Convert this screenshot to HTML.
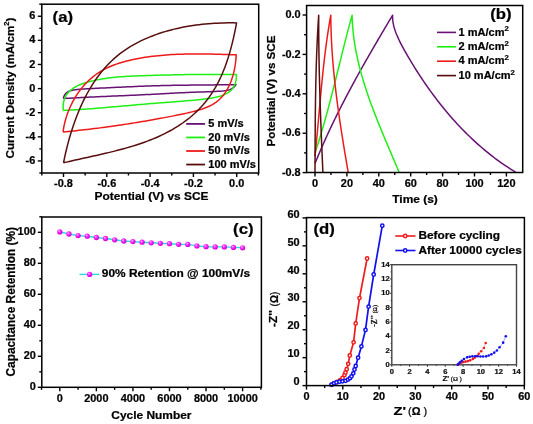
<!DOCTYPE html><html><head><meta charset="utf-8"><style>html,body{margin:0;padding:0;background:#fff;overflow:hidden}svg{display:block;will-change:transform;filter:blur(0.3px)}text{stroke:#000;stroke-width:0.22px;paint-order:stroke}</style></head><body>
<svg width="533" height="424" viewBox="0 0 533 424">
<rect width="533" height="424" fill="#fff"/>
<path d="M63.29,98.50L63.92,96.36L64.86,94.60L66.09,93.17L67.58,92.03L69.28,91.15L71.17,90.48L73.21,89.99L75.36,89.64L77.59,89.39L79.86,89.20L82.15,89.04L84.44,88.89L86.74,88.76L89.04,88.63L91.33,88.52L93.63,88.41L95.92,88.30L98.21,88.20L100.50,88.10L102.79,88.01L105.07,87.90L107.34,87.80L109.61,87.69L111.88,87.59L114.14,87.48L116.40,87.37L118.66,87.26L120.91,87.16L123.16,87.05L125.41,86.94L127.66,86.84L129.90,86.73L132.15,86.63L134.39,86.53L136.64,86.43L138.88,86.34L141.13,86.25L143.37,86.16L145.62,86.07L147.87,86.00L150.12,85.92L152.37,85.85L154.62,85.78L156.88,85.72L159.13,85.66L161.39,85.60L163.65,85.55L165.91,85.50L168.17,85.45L170.43,85.41L172.69,85.37L174.96,85.33L177.22,85.30L179.48,85.26L181.75,85.23L184.01,85.20L186.28,85.17L188.54,85.14L190.81,85.12L193.07,85.09L195.34,85.07L197.60,85.04L199.87,85.02L202.13,85.00L204.40,84.98L206.66,84.96L208.92,84.93L211.19,84.91L213.45,84.89L215.71,84.87L217.97,84.84L220.23,84.82L222.48,84.79L224.74,84.76L226.99,84.73L229.25,84.70L231.50,84.67L233.75,84.64L236.00,84.60L234.91,86.18L233.58,87.48L232.04,88.52L230.33,89.35L228.46,89.98L226.47,90.46L224.37,90.80L222.19,91.04L219.97,91.21L217.71,91.35L215.45,91.46L213.19,91.56L210.93,91.66L208.66,91.74L206.39,91.82L204.12,91.89L201.86,91.96L199.59,92.03L197.33,92.11L195.07,92.19L192.82,92.27L190.57,92.36L188.32,92.45L186.08,92.55L183.84,92.65L181.61,92.75L179.37,92.86L177.14,92.97L174.91,93.09L172.69,93.20L170.46,93.32L168.24,93.44L166.01,93.56L163.79,93.68L161.57,93.80L159.34,93.92L157.12,94.04L154.90,94.15L152.67,94.27L150.45,94.38L148.22,94.50L145.99,94.61L143.76,94.72L141.53,94.82L139.30,94.93L137.07,95.03L134.83,95.14L132.60,95.24L130.36,95.34L128.13,95.44L125.89,95.54L123.65,95.64L121.41,95.73L119.18,95.83L116.94,95.93L114.70,96.03L112.46,96.12L110.22,96.22L107.98,96.32L105.74,96.42L103.50,96.51L101.26,96.61L99.03,96.71L96.79,96.81L94.55,96.92L92.31,97.02L90.07,97.12L87.84,97.23L85.60,97.33L83.37,97.44L81.13,97.55L78.90,97.66L76.67,97.77L74.44,97.89L72.21,98.01L69.98,98.13L67.75,98.25L65.53,98.37L63.30,98.50" fill="none" stroke="#671274" stroke-width="1.50" stroke-linejoin="round" stroke-linecap="butt"/>
<path d="M63.29,110.50L63.10,107.64L63.18,104.96L63.50,102.47L64.05,100.15L64.83,98.00L65.81,96.01L66.99,94.18L68.34,92.49L69.86,90.93L71.53,89.51L73.34,88.20L75.27,87.01L77.32,85.92L79.45,84.94L81.67,84.04L83.96,83.22L86.30,82.48L88.68,81.80L91.09,81.19L93.51,80.62L95.93,80.10L98.36,79.62L100.78,79.18L103.20,78.77L105.63,78.41L108.05,78.07L110.48,77.77L112.90,77.50L115.33,77.25L117.75,77.03L120.17,76.83L122.60,76.65L125.02,76.49L127.45,76.35L129.87,76.22L132.29,76.10L134.72,76.00L137.14,75.90L139.56,75.81L141.98,75.72L144.40,75.64L146.82,75.56L149.24,75.48L151.66,75.40L154.08,75.33L156.50,75.26L158.92,75.19L161.33,75.12L163.75,75.06L166.17,75.00L168.58,74.94L171.00,74.89L173.42,74.83L175.83,74.79L178.25,74.74L180.67,74.70L183.09,74.66L185.50,74.62L187.92,74.58L190.34,74.55L192.76,74.52L195.17,74.50L197.59,74.47L200.01,74.45L202.43,74.43L204.85,74.42L207.27,74.41L209.70,74.40L212.12,74.39L214.54,74.39L216.97,74.39L219.39,74.39L221.82,74.40L224.25,74.41L226.68,74.42L229.10,74.44L231.54,74.46L233.97,74.48L236.40,74.50L236.37,77.40L236.08,80.05L235.55,82.46L234.79,84.64L233.82,86.61L232.65,88.38L231.30,89.96L229.77,91.36L228.09,92.61L226.27,93.70L224.32,94.65L222.25,95.48L220.09,96.20L217.84,96.82L215.53,97.35L213.15,97.80L210.74,98.20L208.30,98.55L205.84,98.86L203.39,99.15L200.94,99.42L198.51,99.68L196.09,99.93L193.68,100.17L191.27,100.40L188.88,100.62L186.49,100.83L184.10,101.04L181.73,101.23L179.36,101.43L176.99,101.61L174.63,101.80L172.27,101.98L169.91,102.16L167.56,102.33L165.21,102.51L162.85,102.69L160.50,102.87L158.15,103.05L155.79,103.23L153.43,103.42L151.07,103.61L148.71,103.80L146.35,104.00L143.99,104.20L141.62,104.40L139.25,104.60L136.89,104.80L134.52,105.01L132.15,105.21L129.78,105.42L127.40,105.63L125.03,105.84L122.66,106.05L120.28,106.25L117.91,106.46L115.53,106.67L113.15,106.87L110.78,107.08L108.40,107.28L106.02,107.48L103.65,107.68L101.27,107.88L98.89,108.07L96.52,108.26L94.14,108.45L91.76,108.64L89.39,108.82L87.01,108.99L84.64,109.17L82.26,109.34L79.89,109.50L77.52,109.66L75.14,109.81L72.77,109.96L70.40,110.11L68.03,110.24L65.67,110.37L63.30,110.50" fill="none" stroke="#1ef014" stroke-width="1.50" stroke-linejoin="round" stroke-linecap="butt"/>
<path d="M63.00,131.90L63.39,129.31L63.87,126.72L64.42,124.12L65.06,121.53L65.77,118.95L66.56,116.38L67.44,113.82L68.38,111.29L69.41,108.78L70.50,106.29L71.68,103.84L72.92,101.42L74.24,99.04L75.63,96.70L77.09,94.42L78.62,92.18L80.21,90.00L81.88,87.88L83.61,85.82L85.41,83.84L87.27,81.92L89.19,80.08L91.18,78.31L93.22,76.62L95.32,75.00L97.48,73.47L99.69,72.01L101.94,70.63L104.25,69.34L106.60,68.13L108.99,67.01L111.42,65.96L113.89,64.99L116.39,64.09L118.92,63.25L121.48,62.47L124.05,61.75L126.64,61.07L129.25,60.43L131.86,59.84L134.48,59.28L137.11,58.75L139.75,58.26L142.39,57.79L145.04,57.36L147.69,56.97L150.35,56.60L153.01,56.25L155.68,55.94L158.35,55.65L161.03,55.39L163.71,55.16L166.39,54.95L169.08,54.76L171.77,54.59L174.46,54.44L177.15,54.32L179.85,54.21L182.54,54.13L185.24,54.06L187.94,54.00L190.64,53.96L193.33,53.94L196.03,53.93L198.73,53.93L201.42,53.95L204.12,53.97L206.81,54.01L209.50,54.05L212.18,54.11L214.87,54.17L217.55,54.23L220.23,54.31L222.90,54.38L225.57,54.46L228.23,54.54L230.89,54.63L233.55,54.71L236.20,54.80L236.06,57.42L235.84,60.07L235.54,62.74L235.17,65.42L234.70,68.09L234.16,70.76L233.52,73.42L232.80,76.04L231.98,78.63L231.06,81.17L230.06,83.66L228.95,86.08L227.74,88.43L226.42,90.70L225.01,92.87L223.48,94.95L221.85,96.91L220.10,98.76L218.24,100.47L216.26,102.05L214.16,103.49L211.96,104.80L209.67,105.98L207.30,107.05L204.85,108.03L202.35,108.92L199.80,109.73L197.21,110.49L194.60,111.19L191.99,111.86L189.36,112.50L186.74,113.11L184.11,113.70L181.49,114.27L178.86,114.82L176.23,115.35L173.60,115.87L170.98,116.38L168.35,116.88L165.72,117.38L163.10,117.87L160.47,118.35L157.85,118.83L155.22,119.30L152.60,119.77L149.98,120.23L147.36,120.69L144.73,121.14L142.11,121.58L139.49,122.02L136.87,122.46L134.25,122.88L131.62,123.31L129.00,123.72L126.38,124.13L123.75,124.53L121.13,124.93L118.50,125.32L115.88,125.71L113.25,126.08L110.62,126.45L107.99,126.82L105.36,127.17L102.73,127.53L100.10,127.87L97.46,128.20L94.82,128.53L92.18,128.86L89.54,129.17L86.90,129.48L84.25,129.78L81.61,130.07L78.96,130.35L76.30,130.63L73.65,130.90L70.99,131.16L68.33,131.41L65.67,131.66L63.00,131.90" fill="none" stroke="#ee1a1a" stroke-width="1.50" stroke-linejoin="round" stroke-linecap="butt"/>
<path d="M63.51,162.80L64.12,159.80L64.76,156.79L65.43,153.77L66.14,150.74L66.88,147.70L67.65,144.66L68.46,141.61L69.30,138.57L70.18,135.52L71.10,132.48L72.05,129.44L73.04,126.42L74.08,123.40L75.15,120.40L76.27,117.41L77.42,114.43L78.62,111.48L79.87,108.54L81.16,105.63L82.49,102.75L83.87,99.89L85.30,97.06L86.77,94.27L88.30,91.50L89.87,88.78L91.50,86.09L93.17,83.44L94.90,80.84L96.68,78.28L98.51,75.76L100.40,73.30L102.35,70.89L104.35,68.53L106.40,66.22L108.52,63.98L110.69,61.79L112.92,59.67L115.22,57.61L117.57,55.61L119.99,53.69L122.47,51.83L125.00,50.05L127.59,48.32L130.24,46.67L132.93,45.08L135.67,43.56L138.45,42.10L141.28,40.70L144.14,39.36L147.04,38.08L149.97,36.86L152.93,35.70L155.92,34.60L158.93,33.56L161.96,32.57L165.01,31.63L168.08,30.75L171.16,29.92L174.24,29.14L177.34,28.42L180.44,27.74L183.55,27.11L186.66,26.53L189.77,26.00L192.89,25.51L196.01,25.07L199.14,24.67L202.26,24.31L205.39,23.99L208.52,23.72L211.64,23.48L214.77,23.29L217.90,23.13L221.02,23.00L224.14,22.92L227.26,22.86L230.38,22.84L233.49,22.86L236.60,22.90L236.02,25.86L235.43,28.83L234.81,31.82L234.17,34.82L233.50,37.82L232.79,40.84L232.06,43.85L231.29,46.86L230.48,49.87L229.63,52.88L228.74,55.87L227.81,58.85L226.83,61.81L225.79,64.76L224.71,67.68L223.57,70.58L222.38,73.45L221.13,76.29L219.81,79.10L218.44,81.87L217.00,84.60L215.49,87.29L213.91,89.94L212.28,92.54L210.57,95.09L208.80,97.59L206.96,100.03L205.06,102.43L203.10,104.76L201.06,107.03L198.96,109.24L196.80,111.39L194.58,113.48L192.30,115.50L189.97,117.47L187.59,119.37L185.16,121.21L182.68,123.00L180.16,124.72L177.61,126.38L175.01,127.98L172.38,129.53L169.71,131.02L167.02,132.45L164.29,133.83L161.53,135.17L158.74,136.45L155.93,137.69L153.09,138.88L150.23,140.03L147.35,141.14L144.44,142.20L141.52,143.24L138.57,144.23L135.61,145.19L132.64,146.12L129.65,147.02L126.65,147.89L123.64,148.74L120.63,149.55L117.60,150.35L114.57,151.12L111.53,151.88L108.49,152.62L105.45,153.34L102.40,154.05L99.36,154.74L96.33,155.43L93.29,156.10L90.26,156.77L87.24,157.44L84.23,158.10L81.23,158.76L78.24,159.42L75.26,160.09L72.30,160.76L69.35,161.43L66.42,162.11L63.51,162.80" fill="none" stroke="#580e0e" stroke-width="1.50" stroke-linejoin="round" stroke-linecap="butt"/>
<rect x="41.80" y="4.20" width="216.90" height="168.80" fill="none" stroke="#000" stroke-width="1.50"/>
<line x1="63.50" y1="173.00" x2="63.50" y2="177.00" stroke="#000" stroke-width="1.40" />
<line x1="106.80" y1="173.00" x2="106.80" y2="177.00" stroke="#000" stroke-width="1.40" />
<line x1="150.10" y1="173.00" x2="150.10" y2="177.00" stroke="#000" stroke-width="1.40" />
<line x1="193.40" y1="173.00" x2="193.40" y2="177.00" stroke="#000" stroke-width="1.40" />
<line x1="236.70" y1="173.00" x2="236.70" y2="177.00" stroke="#000" stroke-width="1.40" />
<line x1="41.85" y1="173.00" x2="41.85" y2="175.50" stroke="#000" stroke-width="1.40" />
<line x1="85.15" y1="173.00" x2="85.15" y2="175.50" stroke="#000" stroke-width="1.40" />
<line x1="128.45" y1="173.00" x2="128.45" y2="175.50" stroke="#000" stroke-width="1.40" />
<line x1="171.75" y1="173.00" x2="171.75" y2="175.50" stroke="#000" stroke-width="1.40" />
<line x1="215.05" y1="173.00" x2="215.05" y2="175.50" stroke="#000" stroke-width="1.40" />
<line x1="258.35" y1="173.00" x2="258.35" y2="175.50" stroke="#000" stroke-width="1.40" />
<line x1="37.80" y1="160.96" x2="41.80" y2="160.96" stroke="#000" stroke-width="1.40" />
<line x1="37.80" y1="136.84" x2="41.80" y2="136.84" stroke="#000" stroke-width="1.40" />
<line x1="37.80" y1="112.72" x2="41.80" y2="112.72" stroke="#000" stroke-width="1.40" />
<line x1="37.80" y1="88.60" x2="41.80" y2="88.60" stroke="#000" stroke-width="1.40" />
<line x1="37.80" y1="64.48" x2="41.80" y2="64.48" stroke="#000" stroke-width="1.40" />
<line x1="37.80" y1="40.36" x2="41.80" y2="40.36" stroke="#000" stroke-width="1.40" />
<line x1="37.80" y1="16.24" x2="41.80" y2="16.24" stroke="#000" stroke-width="1.40" />
<line x1="39.30" y1="173.02" x2="41.80" y2="173.02" stroke="#000" stroke-width="1.40" />
<line x1="39.30" y1="148.90" x2="41.80" y2="148.90" stroke="#000" stroke-width="1.40" />
<line x1="39.30" y1="124.78" x2="41.80" y2="124.78" stroke="#000" stroke-width="1.40" />
<line x1="39.30" y1="100.66" x2="41.80" y2="100.66" stroke="#000" stroke-width="1.40" />
<line x1="39.30" y1="76.54" x2="41.80" y2="76.54" stroke="#000" stroke-width="1.40" />
<line x1="39.30" y1="52.42" x2="41.80" y2="52.42" stroke="#000" stroke-width="1.40" />
<line x1="39.30" y1="28.30" x2="41.80" y2="28.30" stroke="#000" stroke-width="1.40" />
<line x1="39.30" y1="4.18" x2="41.80" y2="4.18" stroke="#000" stroke-width="1.40" />
<text transform="translate(63.50,186.50) scale(1.050,1)" font-size="10.40" font-weight="bold" text-anchor="middle" fill="#000" font-family='"Liberation Sans", sans-serif' >-0.8</text>
<text transform="translate(106.80,186.50) scale(1.050,1)" font-size="10.40" font-weight="bold" text-anchor="middle" fill="#000" font-family='"Liberation Sans", sans-serif' >-0.6</text>
<text transform="translate(150.10,186.50) scale(1.050,1)" font-size="10.40" font-weight="bold" text-anchor="middle" fill="#000" font-family='"Liberation Sans", sans-serif' >-0.4</text>
<text transform="translate(193.40,186.50) scale(1.050,1)" font-size="10.40" font-weight="bold" text-anchor="middle" fill="#000" font-family='"Liberation Sans", sans-serif' >-0.2</text>
<text transform="translate(236.70,186.50) scale(1.050,1)" font-size="10.40" font-weight="bold" text-anchor="middle" fill="#000" font-family='"Liberation Sans", sans-serif' >0.0</text>
<text transform="translate(35.30,164.06) scale(1.050,1)" font-size="10.40" font-weight="bold" text-anchor="end" fill="#000" font-family='"Liberation Sans", sans-serif' >-6</text>
<text transform="translate(35.30,139.94) scale(1.050,1)" font-size="10.40" font-weight="bold" text-anchor="end" fill="#000" font-family='"Liberation Sans", sans-serif' >-4</text>
<text transform="translate(35.30,115.82) scale(1.050,1)" font-size="10.40" font-weight="bold" text-anchor="end" fill="#000" font-family='"Liberation Sans", sans-serif' >-2</text>
<text transform="translate(35.30,91.70) scale(1.050,1)" font-size="10.40" font-weight="bold" text-anchor="end" fill="#000" font-family='"Liberation Sans", sans-serif' >0</text>
<text transform="translate(35.30,67.58) scale(1.050,1)" font-size="10.40" font-weight="bold" text-anchor="end" fill="#000" font-family='"Liberation Sans", sans-serif' >2</text>
<text transform="translate(35.30,43.46) scale(1.050,1)" font-size="10.40" font-weight="bold" text-anchor="end" fill="#000" font-family='"Liberation Sans", sans-serif' >4</text>
<text transform="translate(35.30,19.34) scale(1.050,1)" font-size="10.40" font-weight="bold" text-anchor="end" fill="#000" font-family='"Liberation Sans", sans-serif' >6</text>
<text transform="translate(151.50,199.80) scale(1.085,1)" font-size="11.00" font-weight="bold" text-anchor="middle" fill="#000" font-family='"Liberation Sans", sans-serif' >Potential (V) vs SCE</text>
<text transform="translate(13.60,88.00) rotate(-90) scale(1,1.000)" font-size="11.60" font-weight="bold" text-anchor="middle" fill="#000" font-family='"Liberation Sans", sans-serif' >Current Density (mA/cm<tspan font-size="7.5" dy="-4.5">2</tspan><tspan dy="4.5">)</tspan></text>
<text transform="translate(62.80,21.70) scale(1.080,1)" font-size="15.50" font-weight="bold" text-anchor="middle" fill="#000" font-family='"Liberation Sans", sans-serif' >(a)</text>
<line x1="186.20" y1="123.90" x2="205.00" y2="123.90" stroke="#671274" stroke-width="1.80" />
<text transform="translate(208.30,127.10) scale(1.100,1)" font-size="10.00" font-weight="bold" text-anchor="start" fill="#000" font-family='"Liberation Sans", sans-serif' >5 mV/s</text>
<line x1="186.20" y1="137.45" x2="205.00" y2="137.45" stroke="#1ef014" stroke-width="1.80" />
<text transform="translate(208.30,140.65) scale(1.100,1)" font-size="10.00" font-weight="bold" text-anchor="start" fill="#000" font-family='"Liberation Sans", sans-serif' >20 mV/s</text>
<line x1="186.20" y1="151.00" x2="205.00" y2="151.00" stroke="#ee1a1a" stroke-width="1.80" />
<text transform="translate(208.30,154.20) scale(1.100,1)" font-size="10.00" font-weight="bold" text-anchor="start" fill="#000" font-family='"Liberation Sans", sans-serif' >50 mV/s</text>
<line x1="186.20" y1="164.55" x2="205.00" y2="164.55" stroke="#580e0e" stroke-width="1.80" />
<text transform="translate(208.30,167.75) scale(1.100,1)" font-size="10.00" font-weight="bold" text-anchor="start" fill="#000" font-family='"Liberation Sans", sans-serif' >100 mV/s</text>
<defs><clipPath id="cb"><rect x="306.60" y="5.50" width="216.10" height="167.00"/></clipPath></defs>
<g clip-path="url(#cb)">
<path d="M315.00,163.50L315.80,161.53L316.60,159.57L317.41,157.60L318.23,155.64L319.05,153.69L319.88,151.73L320.72,149.78L321.56,147.84L322.41,145.89L323.27,143.95L324.13,142.01L324.99,140.08L325.87,138.14L326.75,136.21L327.63,134.29L328.52,132.36L329.42,130.44L330.32,128.52L331.23,126.61L332.14,124.69L333.06,122.78L333.98,120.88L334.91,118.97L335.84,117.07L336.78,115.17L337.73,113.27L338.67,111.37L339.63,109.48L340.59,107.59L341.55,105.70L342.51,103.81L343.49,101.93L344.46,100.05L345.44,98.17L346.43,96.29L347.41,94.41L348.41,92.54L349.40,90.67L350.40,88.80L351.40,86.93L352.41,85.06L353.42,83.20L354.44,81.34L355.45,79.48L356.48,77.62L357.50,75.76L358.53,73.90L359.56,72.05L360.59,70.20L361.63,68.35L362.67,66.50L363.71,64.65L364.76,62.80L365.80,60.96L366.85,59.12L367.91,57.27L368.96,55.43L370.02,53.59L371.08,51.76L372.14,49.92L373.20,48.08L374.27,46.25L375.34,44.42L376.40,42.58L377.48,40.75L378.55,38.92L379.62,37.09L380.70,35.26L381.77,33.44L382.85,31.61L383.93,29.78L385.01,27.96L386.09,26.13L387.18,24.31L388.26,22.49L389.34,20.66L390.43,18.84L391.52,17.02L392.60,15.20L392.59,17.84L392.77,20.42L393.12,22.96L393.62,25.45L394.26,27.90L395.02,30.32L395.88,32.71L396.83,35.07L397.86,37.41L398.94,39.74L400.07,42.05L401.23,44.36L402.43,46.65L403.66,48.94L404.91,51.21L406.20,53.48L407.50,55.73L408.82,57.98L410.16,60.21L411.51,62.44L412.87,64.66L414.24,66.87L415.62,69.07L417.01,71.26L418.42,73.45L419.83,75.62L421.26,77.78L422.70,79.94L424.15,82.08L425.62,84.22L427.09,86.34L428.59,88.45L430.09,90.56L431.61,92.65L433.14,94.74L434.68,96.81L436.25,98.87L437.82,100.93L439.41,102.97L441.02,105.00L442.64,107.02L444.27,109.03L445.92,111.03L447.59,113.01L449.27,114.98L450.97,116.94L452.69,118.89L454.41,120.82L456.16,122.74L457.92,124.65L459.69,126.54L461.49,128.41L463.29,130.27L465.11,132.12L466.95,133.95L468.81,135.76L470.67,137.56L472.56,139.34L474.46,141.11L476.38,142.85L478.31,144.58L480.26,146.29L482.22,147.99L484.20,149.66L486.20,151.31L488.21,152.95L490.23,154.57L492.28,156.16L494.34,157.74L496.41,159.29L498.50,160.83L500.61,162.34L502.73,163.83L504.87,165.30L507.02,166.74L509.19,168.17L511.38,169.57L513.58,170.94L515.80,172.30" fill="none" stroke="#671274" stroke-width="1.50" stroke-linejoin="round" stroke-linecap="butt"/>
<path d="M315.00,153.00L315.57,151.29L316.13,149.57L316.69,147.85L317.25,146.13L317.80,144.41L318.34,142.69L318.88,140.97L319.41,139.24L319.94,137.52L320.47,135.79L320.99,134.06L321.50,132.33L322.01,130.60L322.52,128.87L323.02,127.13L323.52,125.40L324.02,123.66L324.51,121.92L325.00,120.19L325.49,118.45L325.97,116.71L326.45,114.96L326.92,113.22L327.40,111.48L327.87,109.74L328.33,107.99L328.80,106.24L329.26,104.50L329.72,102.75L330.18,101.00L330.63,99.25L331.09,97.51L331.54,95.76L331.99,94.01L332.43,92.25L332.88,90.50L333.32,88.75L333.77,87.00L334.21,85.25L334.65,83.49L335.09,81.74L335.53,79.99L335.97,78.23L336.40,76.48L336.84,74.73L337.27,72.97L337.71,71.22L338.14,69.46L338.58,67.71L339.01,65.95L339.45,64.20L339.88,62.44L340.32,60.69L340.76,58.93L341.19,57.18L341.63,55.42L342.07,53.67L342.50,51.92L342.94,50.16L343.38,48.41L343.83,46.66L344.27,44.90L344.71,43.15L345.16,41.40L345.61,39.65L346.06,37.90L346.51,36.15L346.96,34.40L347.41,32.65L347.87,30.90L348.33,29.15L348.79,27.41L349.26,25.66L349.72,23.92L350.19,22.17L350.67,20.43L351.14,18.68L351.62,16.94L352.10,15.20L352.15,17.31L352.23,19.42L352.33,21.52L352.45,23.62L352.60,25.71L352.76,27.80L352.95,29.89L353.15,31.97L353.38,34.04L353.62,36.12L353.89,38.19L354.17,40.25L354.47,42.32L354.79,44.37L355.13,46.43L355.49,48.48L355.86,50.53L356.26,52.57L356.66,54.61L357.09,56.65L357.53,58.68L357.98,60.71L358.46,62.73L358.94,64.76L359.44,66.78L359.96,68.79L360.49,70.81L361.03,72.82L361.59,74.82L362.16,76.83L362.74,78.83L363.34,80.83L363.94,82.82L364.56,84.81L365.19,86.80L365.83,88.79L366.48,90.78L367.15,92.76L367.82,94.74L368.50,96.71L369.19,98.69L369.89,100.66L370.60,102.63L371.32,104.59L372.04,106.56L372.78,108.52L373.52,110.48L374.26,112.44L375.02,114.39L375.78,116.34L376.55,118.30L377.32,120.25L378.10,122.19L378.88,124.14L379.67,126.08L380.46,128.02L381.25,129.96L382.05,131.90L382.86,133.84L383.66,135.77L384.47,137.71L385.28,139.64L386.09,141.57L386.91,143.50L387.72,145.43L388.54,147.35L389.36,149.28L390.18,151.20L390.99,153.13L391.81,155.05L392.63,156.97L393.44,158.89L394.26,160.81L395.07,162.72L395.88,164.64L396.69,166.56L397.50,168.47L398.30,170.38L399.10,172.30" fill="none" stroke="#1ef014" stroke-width="1.50" stroke-linejoin="round" stroke-linecap="butt"/>
<path d="M315.00,156.00L315.19,154.22L315.37,152.43L315.56,150.65L315.74,148.86L315.92,147.08L316.09,145.29L316.27,143.51L316.44,141.72L316.61,139.94L316.78,138.15L316.95,136.37L317.12,134.58L317.29,132.79L317.45,131.01L317.61,129.22L317.78,127.43L317.94,125.65L318.10,123.86L318.26,122.07L318.42,120.28L318.58,118.50L318.74,116.71L318.90,114.92L319.06,113.14L319.22,111.35L319.38,109.56L319.54,107.77L319.70,105.99L319.86,104.20L320.02,102.41L320.18,100.62L320.35,98.84L320.51,97.05L320.67,95.26L320.84,93.48L321.00,91.69L321.17,89.90L321.34,88.12L321.51,86.33L321.69,84.54L321.86,82.76L322.04,80.97L322.21,79.19L322.39,77.40L322.58,75.62L322.76,73.83L322.95,72.05L323.14,70.27L323.33,68.48L323.52,66.70L323.72,64.92L323.92,63.14L324.12,61.35L324.33,59.57L324.54,57.79L324.75,56.01L324.97,54.23L325.19,52.45L325.41,50.67L325.64,48.89L325.87,47.11L326.10,45.33L326.34,43.56L326.58,41.78L326.83,40.00L327.08,38.23L327.34,36.45L327.60,34.68L327.87,32.90L328.14,31.13L328.41,29.36L328.69,27.59L328.98,25.81L329.27,24.04L329.56,22.27L329.86,20.50L330.17,18.74L330.48,16.97L330.80,15.20L330.81,17.21L330.83,19.21L330.86,21.22L330.89,23.23L330.93,25.23L330.98,27.24L331.04,29.24L331.10,31.25L331.17,33.25L331.24,35.25L331.33,37.25L331.42,39.25L331.51,41.26L331.62,43.26L331.73,45.26L331.84,47.25L331.97,49.25L332.09,51.25L332.23,53.25L332.37,55.25L332.52,57.24L332.67,59.24L332.83,61.23L332.99,63.23L333.16,65.22L333.34,67.22L333.52,69.21L333.71,71.20L333.90,73.20L334.09,75.19L334.30,77.18L334.50,79.17L334.71,81.16L334.93,83.15L335.15,85.14L335.38,87.13L335.61,89.12L335.84,91.11L336.08,93.10L336.33,95.08L336.57,97.07L336.83,99.06L337.08,101.04L337.34,103.03L337.60,105.02L337.87,107.00L338.14,108.99L338.42,110.97L338.70,112.95L338.98,114.94L339.26,116.92L339.55,118.90L339.84,120.88L340.13,122.87L340.43,124.85L340.73,126.83L341.03,128.81L341.34,130.79L341.65,132.77L341.96,134.75L342.27,136.73L342.58,138.71L342.90,140.69L343.22,142.66L343.54,144.64L343.86,146.62L344.19,148.60L344.52,150.57L344.84,152.55L345.17,154.53L345.51,156.50L345.84,158.48L346.17,160.45L346.51,162.43L346.85,164.40L347.18,166.38L347.52,168.35L347.86,170.33L348.20,172.30" fill="none" stroke="#ee1a1a" stroke-width="1.50" stroke-linejoin="round" stroke-linecap="butt"/>
<path d="M315.00,172.30L315.01,170.31L315.02,168.32L315.03,166.33L315.04,164.34L315.04,162.35L315.05,160.36L315.06,158.37L315.07,156.39L315.08,154.40L315.09,152.41L315.09,150.42L315.10,148.43L315.11,146.44L315.12,144.45L315.13,142.46L315.14,140.47L315.15,138.48L315.16,136.49L315.18,134.50L315.19,132.51L315.20,130.52L315.21,128.53L315.23,126.54L315.24,124.55L315.26,122.56L315.28,120.57L315.29,118.58L315.31,116.59L315.33,114.60L315.35,112.61L315.38,110.62L315.40,108.64L315.42,106.65L315.45,104.66L315.48,102.67L315.50,100.68L315.53,98.69L315.57,96.70L315.60,94.71L315.63,92.72L315.67,90.73L315.71,88.74L315.75,86.75L315.79,84.76L315.83,82.78L315.87,80.79L315.92,78.80L315.97,76.81L316.02,74.82L316.07,72.83L316.13,70.84L316.18,68.85L316.24,66.87L316.30,64.88L316.37,62.89L316.43,60.90L316.50,58.91L316.57,56.93L316.64,54.94L316.72,52.95L316.80,50.96L316.88,48.97L316.96,46.99L317.05,45.00L317.14,43.01L317.23,41.02L317.32,39.04L317.42,37.05L317.52,35.06L317.63,33.08L317.73,31.09L317.84,29.10L317.96,27.12L318.07,25.13L318.19,23.14L318.31,21.16L318.44,19.17L318.57,17.19L318.70,15.20L318.70,17.19L318.70,19.18L318.69,21.17L318.70,23.16L318.70,25.15L318.71,27.14L318.71,29.13L318.72,31.12L318.73,33.11L318.75,35.10L318.76,37.09L318.78,39.08L318.80,41.07L318.82,43.06L318.84,45.05L318.86,47.04L318.89,49.02L318.91,51.01L318.94,53.00L318.97,54.99L319.01,56.98L319.04,58.97L319.07,60.96L319.11,62.95L319.15,64.94L319.19,66.93L319.23,68.92L319.27,70.90L319.32,72.89L319.36,74.88L319.41,76.87L319.46,78.86L319.51,80.85L319.56,82.84L319.61,84.83L319.67,86.81L319.72,88.80L319.78,90.79L319.84,92.78L319.89,94.77L319.95,96.76L320.02,98.74L320.08,100.73L320.14,102.72L320.21,104.71L320.27,106.70L320.34,108.69L320.41,110.67L320.47,112.66L320.54,114.65L320.61,116.64L320.69,118.63L320.76,120.62L320.83,122.60L320.91,124.59L320.98,126.58L321.06,128.57L321.13,130.56L321.21,132.54L321.29,134.53L321.37,136.52L321.45,138.51L321.53,140.50L321.61,142.48L321.69,144.47L321.78,146.46L321.86,148.45L321.94,150.43L322.03,152.42L322.11,154.41L322.20,156.40L322.29,158.39L322.37,160.37L322.46,162.36L322.55,164.35L322.64,166.34L322.72,168.32L322.81,170.31L322.90,172.30" fill="none" stroke="#580e0e" stroke-width="1.50" stroke-linejoin="round" stroke-linecap="butt"/>
</g>
<rect x="306.60" y="5.50" width="216.10" height="167.00" fill="none" stroke="#000" stroke-width="1.50"/>
<line x1="315.00" y1="172.50" x2="315.00" y2="176.50" stroke="#000" stroke-width="1.40" />
<line x1="346.90" y1="172.50" x2="346.90" y2="176.50" stroke="#000" stroke-width="1.40" />
<line x1="378.80" y1="172.50" x2="378.80" y2="176.50" stroke="#000" stroke-width="1.40" />
<line x1="410.70" y1="172.50" x2="410.70" y2="176.50" stroke="#000" stroke-width="1.40" />
<line x1="442.60" y1="172.50" x2="442.60" y2="176.50" stroke="#000" stroke-width="1.40" />
<line x1="474.50" y1="172.50" x2="474.50" y2="176.50" stroke="#000" stroke-width="1.40" />
<line x1="506.40" y1="172.50" x2="506.40" y2="176.50" stroke="#000" stroke-width="1.40" />
<line x1="330.95" y1="172.50" x2="330.95" y2="175.00" stroke="#000" stroke-width="1.40" />
<line x1="362.85" y1="172.50" x2="362.85" y2="175.00" stroke="#000" stroke-width="1.40" />
<line x1="394.75" y1="172.50" x2="394.75" y2="175.00" stroke="#000" stroke-width="1.40" />
<line x1="426.65" y1="172.50" x2="426.65" y2="175.00" stroke="#000" stroke-width="1.40" />
<line x1="458.55" y1="172.50" x2="458.55" y2="175.00" stroke="#000" stroke-width="1.40" />
<line x1="490.45" y1="172.50" x2="490.45" y2="175.00" stroke="#000" stroke-width="1.40" />
<line x1="302.60" y1="15.00" x2="306.60" y2="15.00" stroke="#000" stroke-width="1.40" />
<line x1="302.60" y1="54.40" x2="306.60" y2="54.40" stroke="#000" stroke-width="1.40" />
<line x1="302.60" y1="93.80" x2="306.60" y2="93.80" stroke="#000" stroke-width="1.40" />
<line x1="302.60" y1="133.20" x2="306.60" y2="133.20" stroke="#000" stroke-width="1.40" />
<line x1="302.60" y1="172.60" x2="306.60" y2="172.60" stroke="#000" stroke-width="1.40" />
<line x1="304.10" y1="34.70" x2="306.60" y2="34.70" stroke="#000" stroke-width="1.40" />
<line x1="304.10" y1="74.10" x2="306.60" y2="74.10" stroke="#000" stroke-width="1.40" />
<line x1="304.10" y1="113.50" x2="306.60" y2="113.50" stroke="#000" stroke-width="1.40" />
<line x1="304.10" y1="152.90" x2="306.60" y2="152.90" stroke="#000" stroke-width="1.40" />
<text transform="translate(315.00,187.00) scale(1.050,1)" font-size="10.40" font-weight="bold" text-anchor="middle" fill="#000" font-family='"Liberation Sans", sans-serif' >0</text>
<text transform="translate(346.90,187.00) scale(1.050,1)" font-size="10.40" font-weight="bold" text-anchor="middle" fill="#000" font-family='"Liberation Sans", sans-serif' >20</text>
<text transform="translate(378.80,187.00) scale(1.050,1)" font-size="10.40" font-weight="bold" text-anchor="middle" fill="#000" font-family='"Liberation Sans", sans-serif' >40</text>
<text transform="translate(410.70,187.00) scale(1.050,1)" font-size="10.40" font-weight="bold" text-anchor="middle" fill="#000" font-family='"Liberation Sans", sans-serif' >60</text>
<text transform="translate(442.60,187.00) scale(1.050,1)" font-size="10.40" font-weight="bold" text-anchor="middle" fill="#000" font-family='"Liberation Sans", sans-serif' >80</text>
<text transform="translate(474.50,187.00) scale(1.050,1)" font-size="10.40" font-weight="bold" text-anchor="middle" fill="#000" font-family='"Liberation Sans", sans-serif' >100</text>
<text transform="translate(506.40,187.00) scale(1.050,1)" font-size="10.40" font-weight="bold" text-anchor="middle" fill="#000" font-family='"Liberation Sans", sans-serif' >120</text>
<text transform="translate(300.70,18.10) scale(1.050,1)" font-size="10.40" font-weight="bold" text-anchor="end" fill="#000" font-family='"Liberation Sans", sans-serif' >0.0</text>
<text transform="translate(300.70,57.50) scale(1.050,1)" font-size="10.40" font-weight="bold" text-anchor="end" fill="#000" font-family='"Liberation Sans", sans-serif' >-0.2</text>
<text transform="translate(300.70,96.90) scale(1.050,1)" font-size="10.40" font-weight="bold" text-anchor="end" fill="#000" font-family='"Liberation Sans", sans-serif' >-0.4</text>
<text transform="translate(300.70,136.30) scale(1.050,1)" font-size="10.40" font-weight="bold" text-anchor="end" fill="#000" font-family='"Liberation Sans", sans-serif' >-0.6</text>
<text transform="translate(300.70,175.70) scale(1.050,1)" font-size="10.40" font-weight="bold" text-anchor="end" fill="#000" font-family='"Liberation Sans", sans-serif' >-0.8</text>
<text transform="translate(415.00,202.90) scale(1.085,1)" font-size="11.00" font-weight="bold" text-anchor="middle" fill="#000" font-family='"Liberation Sans", sans-serif' >Time (s)</text>
<text transform="translate(274.80,91.00) rotate(-90) scale(1,1.000)" font-size="11.60" font-weight="bold" text-anchor="middle" fill="#000" font-family='"Liberation Sans", sans-serif' >Potential (V) vs SCE</text>
<text transform="translate(500.90,19.40) scale(1.080,1)" font-size="15.50" font-weight="bold" text-anchor="middle" fill="#000" font-family='"Liberation Sans", sans-serif' >(b)</text>
<line x1="437.00" y1="32.40" x2="456.00" y2="32.40" stroke="#671274" stroke-width="1.60" />
<text transform="translate(458.60,35.50) scale(1.100,1)" font-size="10.00" font-weight="bold" text-anchor="start" fill="#000" font-family='"Liberation Sans", sans-serif' >1 mA/cm<tspan font-size="7" dy="-4.2">2</tspan></text>
<line x1="437.00" y1="46.80" x2="456.00" y2="46.80" stroke="#1ef014" stroke-width="1.60" />
<text transform="translate(458.60,49.90) scale(1.100,1)" font-size="10.00" font-weight="bold" text-anchor="start" fill="#000" font-family='"Liberation Sans", sans-serif' >2 mA/cm<tspan font-size="7" dy="-4.2">2</tspan></text>
<line x1="437.00" y1="61.20" x2="456.00" y2="61.20" stroke="#ee1a1a" stroke-width="1.60" />
<text transform="translate(458.60,64.30) scale(1.100,1)" font-size="10.00" font-weight="bold" text-anchor="start" fill="#000" font-family='"Liberation Sans", sans-serif' >4 mA/cm<tspan font-size="7" dy="-4.2">2</tspan></text>
<line x1="437.00" y1="75.60" x2="456.00" y2="75.60" stroke="#580e0e" stroke-width="1.60" />
<text transform="translate(458.60,78.70) scale(1.100,1)" font-size="10.00" font-weight="bold" text-anchor="start" fill="#000" font-family='"Liberation Sans", sans-serif' >10 mA/cm<tspan font-size="7" dy="-4.2">2</tspan></text>
<rect x="41.80" y="217.00" width="219.60" height="170.30" fill="none" stroke="#000" stroke-width="1.50"/>
<line x1="59.80" y1="387.30" x2="59.80" y2="391.30" stroke="#000" stroke-width="1.40" />
<line x1="96.36" y1="387.30" x2="96.36" y2="391.30" stroke="#000" stroke-width="1.40" />
<line x1="132.92" y1="387.30" x2="132.92" y2="391.30" stroke="#000" stroke-width="1.40" />
<line x1="169.48" y1="387.30" x2="169.48" y2="391.30" stroke="#000" stroke-width="1.40" />
<line x1="206.04" y1="387.30" x2="206.04" y2="391.30" stroke="#000" stroke-width="1.40" />
<line x1="242.60" y1="387.30" x2="242.60" y2="391.30" stroke="#000" stroke-width="1.40" />
<line x1="41.52" y1="387.30" x2="41.52" y2="389.80" stroke="#000" stroke-width="1.40" />
<line x1="78.08" y1="387.30" x2="78.08" y2="389.80" stroke="#000" stroke-width="1.40" />
<line x1="114.64" y1="387.30" x2="114.64" y2="389.80" stroke="#000" stroke-width="1.40" />
<line x1="151.20" y1="387.30" x2="151.20" y2="389.80" stroke="#000" stroke-width="1.40" />
<line x1="187.76" y1="387.30" x2="187.76" y2="389.80" stroke="#000" stroke-width="1.40" />
<line x1="224.32" y1="387.30" x2="224.32" y2="389.80" stroke="#000" stroke-width="1.40" />
<line x1="260.88" y1="387.30" x2="260.88" y2="389.80" stroke="#000" stroke-width="1.40" />
<line x1="37.80" y1="387.30" x2="41.80" y2="387.30" stroke="#000" stroke-width="1.40" />
<line x1="37.80" y1="356.30" x2="41.80" y2="356.30" stroke="#000" stroke-width="1.40" />
<line x1="37.80" y1="325.30" x2="41.80" y2="325.30" stroke="#000" stroke-width="1.40" />
<line x1="37.80" y1="294.30" x2="41.80" y2="294.30" stroke="#000" stroke-width="1.40" />
<line x1="37.80" y1="263.30" x2="41.80" y2="263.30" stroke="#000" stroke-width="1.40" />
<line x1="37.80" y1="232.30" x2="41.80" y2="232.30" stroke="#000" stroke-width="1.40" />
<line x1="39.30" y1="371.80" x2="41.80" y2="371.80" stroke="#000" stroke-width="1.40" />
<line x1="39.30" y1="340.80" x2="41.80" y2="340.80" stroke="#000" stroke-width="1.40" />
<line x1="39.30" y1="309.80" x2="41.80" y2="309.80" stroke="#000" stroke-width="1.40" />
<line x1="39.30" y1="278.80" x2="41.80" y2="278.80" stroke="#000" stroke-width="1.40" />
<line x1="39.30" y1="247.80" x2="41.80" y2="247.80" stroke="#000" stroke-width="1.40" />
<line x1="39.30" y1="216.80" x2="41.80" y2="216.80" stroke="#000" stroke-width="1.40" />
<text transform="translate(59.80,401.50) scale(1.050,1)" font-size="10.40" font-weight="bold" text-anchor="middle" fill="#000" font-family='"Liberation Sans", sans-serif' >0</text>
<text transform="translate(96.36,401.50) scale(1.050,1)" font-size="10.40" font-weight="bold" text-anchor="middle" fill="#000" font-family='"Liberation Sans", sans-serif' >2000</text>
<text transform="translate(132.92,401.50) scale(1.050,1)" font-size="10.40" font-weight="bold" text-anchor="middle" fill="#000" font-family='"Liberation Sans", sans-serif' >4000</text>
<text transform="translate(169.48,401.50) scale(1.050,1)" font-size="10.40" font-weight="bold" text-anchor="middle" fill="#000" font-family='"Liberation Sans", sans-serif' >6000</text>
<text transform="translate(206.04,401.50) scale(1.050,1)" font-size="10.40" font-weight="bold" text-anchor="middle" fill="#000" font-family='"Liberation Sans", sans-serif' >8000</text>
<text transform="translate(242.60,401.50) scale(1.050,1)" font-size="10.40" font-weight="bold" text-anchor="middle" fill="#000" font-family='"Liberation Sans", sans-serif' >10000</text>
<text transform="translate(35.80,390.30) scale(1.050,1)" font-size="10.40" font-weight="bold" text-anchor="end" fill="#000" font-family='"Liberation Sans", sans-serif' >0</text>
<text transform="translate(35.80,359.30) scale(1.050,1)" font-size="10.40" font-weight="bold" text-anchor="end" fill="#000" font-family='"Liberation Sans", sans-serif' >20</text>
<text transform="translate(35.80,328.30) scale(1.050,1)" font-size="10.40" font-weight="bold" text-anchor="end" fill="#000" font-family='"Liberation Sans", sans-serif' >40</text>
<text transform="translate(35.80,297.30) scale(1.050,1)" font-size="10.40" font-weight="bold" text-anchor="end" fill="#000" font-family='"Liberation Sans", sans-serif' >60</text>
<text transform="translate(35.80,266.30) scale(1.050,1)" font-size="10.40" font-weight="bold" text-anchor="end" fill="#000" font-family='"Liberation Sans", sans-serif' >80</text>
<text transform="translate(35.80,235.30) scale(1.050,1)" font-size="10.40" font-weight="bold" text-anchor="end" fill="#000" font-family='"Liberation Sans", sans-serif' >100</text>
<text transform="translate(151.40,418.70) scale(1.085,1)" font-size="11.00" font-weight="bold" text-anchor="middle" fill="#000" font-family='"Liberation Sans", sans-serif' >Cycle Number</text>
<text transform="translate(14.50,301.80) rotate(-90) scale(1,1.000)" font-size="11.85" font-weight="bold" text-anchor="middle" fill="#000" font-family='"Liberation Sans", sans-serif' >Capacitance Retention (%)</text>
<text transform="translate(243.35,233.60) scale(1.080,1)" font-size="15.50" font-weight="bold" text-anchor="middle" fill="#000" font-family='"Liberation Sans", sans-serif' >(c)</text>
<defs><radialGradient id="ball" cx="0.38" cy="0.35" r="0.65"><stop offset="0" stop-color="#ffd0ff"/><stop offset="0.35" stop-color="#ff30ff"/><stop offset="1" stop-color="#d000d0"/></radialGradient></defs>
<polyline points="59.80,231.90 68.94,234.00 78.08,235.60 87.22,236.20 96.36,237.50 105.50,238.50 114.64,239.80 123.78,241.00 132.92,241.60 142.06,242.20 151.20,242.80 160.34,243.30 169.48,243.70 178.62,244.30 187.76,244.40 196.90,245.90 206.04,246.70 215.18,246.90 224.32,246.90 233.46,247.40 242.60,247.80" fill="none" stroke="#22dddd" stroke-width="1.4"/>
<circle cx="59.80" cy="231.90" r="2.65" fill="url(#ball)"/>
<circle cx="68.94" cy="234.00" r="2.65" fill="url(#ball)"/>
<circle cx="78.08" cy="235.60" r="2.65" fill="url(#ball)"/>
<circle cx="87.22" cy="236.20" r="2.65" fill="url(#ball)"/>
<circle cx="96.36" cy="237.50" r="2.65" fill="url(#ball)"/>
<circle cx="105.50" cy="238.50" r="2.65" fill="url(#ball)"/>
<circle cx="114.64" cy="239.80" r="2.65" fill="url(#ball)"/>
<circle cx="123.78" cy="241.00" r="2.65" fill="url(#ball)"/>
<circle cx="132.92" cy="241.60" r="2.65" fill="url(#ball)"/>
<circle cx="142.06" cy="242.20" r="2.65" fill="url(#ball)"/>
<circle cx="151.20" cy="242.80" r="2.65" fill="url(#ball)"/>
<circle cx="160.34" cy="243.30" r="2.65" fill="url(#ball)"/>
<circle cx="169.48" cy="243.70" r="2.65" fill="url(#ball)"/>
<circle cx="178.62" cy="244.30" r="2.65" fill="url(#ball)"/>
<circle cx="187.76" cy="244.40" r="2.65" fill="url(#ball)"/>
<circle cx="196.90" cy="245.90" r="2.65" fill="url(#ball)"/>
<circle cx="206.04" cy="246.70" r="2.65" fill="url(#ball)"/>
<circle cx="215.18" cy="246.90" r="2.65" fill="url(#ball)"/>
<circle cx="224.32" cy="246.90" r="2.65" fill="url(#ball)"/>
<circle cx="233.46" cy="247.40" r="2.65" fill="url(#ball)"/>
<circle cx="242.60" cy="247.80" r="2.65" fill="url(#ball)"/>
<line x1="79.50" y1="274.40" x2="99.20" y2="274.40" stroke="#22dddd" stroke-width="1.40" />
<circle cx="89.6" cy="274.4" r="2.65" fill="url(#ball)"/>
<text transform="translate(101.80,277.30) scale(1.190,1)" font-size="10.00" font-weight="bold" text-anchor="start" fill="#000" font-family='"Liberation Sans", sans-serif' >90% Retention @ 100mV/s</text>
<polyline points="331.70,384.80 334.00,383.50 337.00,382.00 340.00,380.30 342.50,378.00 344.50,375.00 345.50,372.50 346.70,369.20 348.20,363.80 349.80,355.50 353.60,342.30 355.70,323.40 359.50,298.10 367.10,258.50" fill="none" stroke="#ee1c1c" stroke-width="1.7" stroke-linejoin="round"/>
<circle cx="331.70" cy="384.80" r="1.65" fill="#fff" stroke="#ee1c1c" stroke-width="1.50"/>
<circle cx="334.00" cy="383.50" r="1.65" fill="#fff" stroke="#ee1c1c" stroke-width="1.50"/>
<circle cx="337.00" cy="382.00" r="1.65" fill="#fff" stroke="#ee1c1c" stroke-width="1.50"/>
<circle cx="340.00" cy="380.30" r="1.65" fill="#fff" stroke="#ee1c1c" stroke-width="1.50"/>
<circle cx="342.50" cy="378.00" r="1.65" fill="#fff" stroke="#ee1c1c" stroke-width="1.50"/>
<circle cx="344.50" cy="375.00" r="1.65" fill="#fff" stroke="#ee1c1c" stroke-width="1.50"/>
<circle cx="345.50" cy="372.50" r="1.65" fill="#fff" stroke="#ee1c1c" stroke-width="1.50"/>
<circle cx="346.70" cy="369.20" r="1.65" fill="#fff" stroke="#ee1c1c" stroke-width="1.50"/>
<circle cx="348.20" cy="363.80" r="1.65" fill="#fff" stroke="#ee1c1c" stroke-width="1.50"/>
<circle cx="349.80" cy="355.50" r="1.65" fill="#fff" stroke="#ee1c1c" stroke-width="1.50"/>
<circle cx="353.60" cy="342.30" r="1.65" fill="#fff" stroke="#ee1c1c" stroke-width="1.50"/>
<circle cx="355.70" cy="323.40" r="1.65" fill="#fff" stroke="#ee1c1c" stroke-width="1.50"/>
<circle cx="359.50" cy="298.10" r="1.65" fill="#fff" stroke="#ee1c1c" stroke-width="1.50"/>
<circle cx="367.10" cy="258.50" r="1.65" fill="#fff" stroke="#ee1c1c" stroke-width="1.50"/>
<polyline points="331.50,384.70 334.00,383.30 336.50,382.40 339.50,381.70 342.50,381.30 345.50,380.80 348.00,379.60 350.00,378.20 351.50,376.30 353.30,373.30 354.50,369.50 355.70,366.00 358.10,357.70 361.40,346.40 365.50,329.90 368.60,306.60 373.70,274.50 382.30,225.70" fill="none" stroke="#1010ee" stroke-width="1.7" stroke-linejoin="round"/>
<circle cx="331.50" cy="384.70" r="1.65" fill="#fff" stroke="#1010ee" stroke-width="1.50"/>
<circle cx="334.00" cy="383.30" r="1.65" fill="#fff" stroke="#1010ee" stroke-width="1.50"/>
<circle cx="336.50" cy="382.40" r="1.65" fill="#fff" stroke="#1010ee" stroke-width="1.50"/>
<circle cx="339.50" cy="381.70" r="1.65" fill="#fff" stroke="#1010ee" stroke-width="1.50"/>
<circle cx="342.50" cy="381.30" r="1.65" fill="#fff" stroke="#1010ee" stroke-width="1.50"/>
<circle cx="345.50" cy="380.80" r="1.65" fill="#fff" stroke="#1010ee" stroke-width="1.50"/>
<circle cx="348.00" cy="379.60" r="1.65" fill="#fff" stroke="#1010ee" stroke-width="1.50"/>
<circle cx="350.00" cy="378.20" r="1.65" fill="#fff" stroke="#1010ee" stroke-width="1.50"/>
<circle cx="351.50" cy="376.30" r="1.65" fill="#fff" stroke="#1010ee" stroke-width="1.50"/>
<circle cx="353.30" cy="373.30" r="1.65" fill="#fff" stroke="#1010ee" stroke-width="1.50"/>
<circle cx="354.50" cy="369.50" r="1.65" fill="#fff" stroke="#1010ee" stroke-width="1.50"/>
<circle cx="355.70" cy="366.00" r="1.65" fill="#fff" stroke="#1010ee" stroke-width="1.50"/>
<circle cx="358.10" cy="357.70" r="1.65" fill="#fff" stroke="#1010ee" stroke-width="1.50"/>
<circle cx="361.40" cy="346.40" r="1.65" fill="#fff" stroke="#1010ee" stroke-width="1.50"/>
<circle cx="365.50" cy="329.90" r="1.65" fill="#fff" stroke="#1010ee" stroke-width="1.50"/>
<circle cx="368.60" cy="306.60" r="1.65" fill="#fff" stroke="#1010ee" stroke-width="1.50"/>
<circle cx="373.70" cy="274.50" r="1.65" fill="#fff" stroke="#1010ee" stroke-width="1.50"/>
<circle cx="382.30" cy="225.70" r="1.65" fill="#fff" stroke="#1010ee" stroke-width="1.50"/>
<rect x="306.50" y="217.60" width="217.90" height="168.00" fill="none" stroke="#000" stroke-width="1.50"/>
<line x1="306.50" y1="385.60" x2="306.50" y2="389.60" stroke="#000" stroke-width="1.40" />
<line x1="342.80" y1="385.60" x2="342.80" y2="389.60" stroke="#000" stroke-width="1.40" />
<line x1="379.10" y1="385.60" x2="379.10" y2="389.60" stroke="#000" stroke-width="1.40" />
<line x1="415.40" y1="385.60" x2="415.40" y2="389.60" stroke="#000" stroke-width="1.40" />
<line x1="451.70" y1="385.60" x2="451.70" y2="389.60" stroke="#000" stroke-width="1.40" />
<line x1="488.00" y1="385.60" x2="488.00" y2="389.60" stroke="#000" stroke-width="1.40" />
<line x1="524.30" y1="385.60" x2="524.30" y2="389.60" stroke="#000" stroke-width="1.40" />
<line x1="324.65" y1="385.60" x2="324.65" y2="388.10" stroke="#000" stroke-width="1.40" />
<line x1="360.95" y1="385.60" x2="360.95" y2="388.10" stroke="#000" stroke-width="1.40" />
<line x1="397.25" y1="385.60" x2="397.25" y2="388.10" stroke="#000" stroke-width="1.40" />
<line x1="433.55" y1="385.60" x2="433.55" y2="388.10" stroke="#000" stroke-width="1.40" />
<line x1="469.85" y1="385.60" x2="469.85" y2="388.10" stroke="#000" stroke-width="1.40" />
<line x1="506.15" y1="385.60" x2="506.15" y2="388.10" stroke="#000" stroke-width="1.40" />
<line x1="302.50" y1="385.60" x2="306.50" y2="385.60" stroke="#000" stroke-width="1.40" />
<line x1="302.50" y1="357.65" x2="306.50" y2="357.65" stroke="#000" stroke-width="1.40" />
<line x1="302.50" y1="329.70" x2="306.50" y2="329.70" stroke="#000" stroke-width="1.40" />
<line x1="302.50" y1="301.75" x2="306.50" y2="301.75" stroke="#000" stroke-width="1.40" />
<line x1="302.50" y1="273.80" x2="306.50" y2="273.80" stroke="#000" stroke-width="1.40" />
<line x1="302.50" y1="245.85" x2="306.50" y2="245.85" stroke="#000" stroke-width="1.40" />
<line x1="302.50" y1="217.90" x2="306.50" y2="217.90" stroke="#000" stroke-width="1.40" />
<line x1="304.00" y1="371.62" x2="306.50" y2="371.62" stroke="#000" stroke-width="1.40" />
<line x1="304.00" y1="343.68" x2="306.50" y2="343.68" stroke="#000" stroke-width="1.40" />
<line x1="304.00" y1="315.73" x2="306.50" y2="315.73" stroke="#000" stroke-width="1.40" />
<line x1="304.00" y1="287.78" x2="306.50" y2="287.78" stroke="#000" stroke-width="1.40" />
<line x1="304.00" y1="259.83" x2="306.50" y2="259.83" stroke="#000" stroke-width="1.40" />
<line x1="304.00" y1="231.88" x2="306.50" y2="231.88" stroke="#000" stroke-width="1.40" />
<text transform="translate(306.50,400.30) scale(1.050,1)" font-size="10.40" font-weight="bold" text-anchor="middle" fill="#000" font-family='"Liberation Sans", sans-serif' >0</text>
<text transform="translate(342.80,400.30) scale(1.050,1)" font-size="10.40" font-weight="bold" text-anchor="middle" fill="#000" font-family='"Liberation Sans", sans-serif' >10</text>
<text transform="translate(379.10,400.30) scale(1.050,1)" font-size="10.40" font-weight="bold" text-anchor="middle" fill="#000" font-family='"Liberation Sans", sans-serif' >20</text>
<text transform="translate(415.40,400.30) scale(1.050,1)" font-size="10.40" font-weight="bold" text-anchor="middle" fill="#000" font-family='"Liberation Sans", sans-serif' >30</text>
<text transform="translate(451.70,400.30) scale(1.050,1)" font-size="10.40" font-weight="bold" text-anchor="middle" fill="#000" font-family='"Liberation Sans", sans-serif' >40</text>
<text transform="translate(488.00,400.30) scale(1.050,1)" font-size="10.40" font-weight="bold" text-anchor="middle" fill="#000" font-family='"Liberation Sans", sans-serif' >50</text>
<text transform="translate(524.30,400.30) scale(1.050,1)" font-size="10.40" font-weight="bold" text-anchor="middle" fill="#000" font-family='"Liberation Sans", sans-serif' >60</text>
<text transform="translate(299.60,385.30) scale(1.050,1)" font-size="10.40" font-weight="bold" text-anchor="end" fill="#000" font-family='"Liberation Sans", sans-serif' >0</text>
<text transform="translate(299.60,357.35) scale(1.050,1)" font-size="10.40" font-weight="bold" text-anchor="end" fill="#000" font-family='"Liberation Sans", sans-serif' >10</text>
<text transform="translate(299.60,329.40) scale(1.050,1)" font-size="10.40" font-weight="bold" text-anchor="end" fill="#000" font-family='"Liberation Sans", sans-serif' >20</text>
<text transform="translate(299.60,301.45) scale(1.050,1)" font-size="10.40" font-weight="bold" text-anchor="end" fill="#000" font-family='"Liberation Sans", sans-serif' >30</text>
<text transform="translate(299.60,273.50) scale(1.050,1)" font-size="10.40" font-weight="bold" text-anchor="end" fill="#000" font-family='"Liberation Sans", sans-serif' >40</text>
<text transform="translate(299.60,245.55) scale(1.050,1)" font-size="10.40" font-weight="bold" text-anchor="end" fill="#000" font-family='"Liberation Sans", sans-serif' >50</text>
<text transform="translate(299.60,217.60) scale(1.050,1)" font-size="10.40" font-weight="bold" text-anchor="end" fill="#000" font-family='"Liberation Sans", sans-serif' >60</text>
<text transform="translate(393.50,415.30) scale(1.280,1)" font-size="11.50" font-weight="bold" text-anchor="start" fill="#000" font-family='"Liberation Sans", sans-serif' >Z'</text>
<text transform="translate(408.00,415.30) scale(1.100,1)" font-size="10.00" font-weight="normal" text-anchor="start" fill="#000" font-family='"Liberation Sans", sans-serif' >(<tspan font-weight="bold">&#937;</tspan> )</text>
<text transform="translate(277.40,327.00) rotate(-90) scale(1,1.000)" font-size="11.80" font-weight="bold" text-anchor="start" fill="#000" font-family='"Liberation Sans", sans-serif' >-Z''</text>
<text transform="translate(277.60,291.70) rotate(-90) scale(1,1.000)" font-size="10.00" font-weight="normal" text-anchor="end" fill="#000" font-family='"Liberation Sans", sans-serif' >(<tspan font-weight="bold">&#937;</tspan>)</text>
<text transform="translate(324.15,234.10) scale(1.080,1)" font-size="15.50" font-weight="bold" text-anchor="middle" fill="#000" font-family='"Liberation Sans", sans-serif' >(d)</text>
<line x1="395.30" y1="236.00" x2="415.50" y2="236.00" stroke="#ee1c1c" stroke-width="1.60" />
<circle cx="405.2" cy="236.00" r="1.65" fill="#fff" stroke="#ee1c1c" stroke-width="1.50"/>
<text transform="translate(418.40,239.30) scale(1.185,1)" font-size="10.00" font-weight="bold" text-anchor="start" fill="#000" font-family='"Liberation Sans", sans-serif' >Before cycling</text>
<line x1="395.30" y1="250.50" x2="415.50" y2="250.50" stroke="#1010ee" stroke-width="1.60" />
<circle cx="405.2" cy="250.50" r="1.65" fill="#fff" stroke="#1010ee" stroke-width="1.50"/>
<text transform="translate(418.40,253.80) scale(1.185,1)" font-size="10.00" font-weight="bold" text-anchor="start" fill="#000" font-family='"Liberation Sans", sans-serif' >After 10000 cycles</text>
<rect x="391.80" y="264.70" width="124.70" height="100.10" fill="#fff" stroke="#444" stroke-width="1.4"/>
<line x1="391.80" y1="364.80" x2="391.80" y2="366.80" stroke="#3a3a3a" stroke-width="1.00" />
<line x1="389.80" y1="364.80" x2="391.80" y2="364.80" stroke="#3a3a3a" stroke-width="1.00" />
<line x1="409.61" y1="364.80" x2="409.61" y2="366.80" stroke="#3a3a3a" stroke-width="1.00" />
<line x1="389.80" y1="350.50" x2="391.80" y2="350.50" stroke="#3a3a3a" stroke-width="1.00" />
<line x1="427.43" y1="364.80" x2="427.43" y2="366.80" stroke="#3a3a3a" stroke-width="1.00" />
<line x1="389.80" y1="336.20" x2="391.80" y2="336.20" stroke="#3a3a3a" stroke-width="1.00" />
<line x1="445.24" y1="364.80" x2="445.24" y2="366.80" stroke="#3a3a3a" stroke-width="1.00" />
<line x1="389.80" y1="321.90" x2="391.80" y2="321.90" stroke="#3a3a3a" stroke-width="1.00" />
<line x1="463.06" y1="364.80" x2="463.06" y2="366.80" stroke="#3a3a3a" stroke-width="1.00" />
<line x1="389.80" y1="307.60" x2="391.80" y2="307.60" stroke="#3a3a3a" stroke-width="1.00" />
<line x1="480.87" y1="364.80" x2="480.87" y2="366.80" stroke="#3a3a3a" stroke-width="1.00" />
<line x1="389.80" y1="293.30" x2="391.80" y2="293.30" stroke="#3a3a3a" stroke-width="1.00" />
<line x1="498.69" y1="364.80" x2="498.69" y2="366.80" stroke="#3a3a3a" stroke-width="1.00" />
<line x1="389.80" y1="279.00" x2="391.80" y2="279.00" stroke="#3a3a3a" stroke-width="1.00" />
<line x1="516.50" y1="364.80" x2="516.50" y2="366.80" stroke="#3a3a3a" stroke-width="1.00" />
<line x1="389.80" y1="264.70" x2="391.80" y2="264.70" stroke="#3a3a3a" stroke-width="1.00" />
<line x1="400.71" y1="364.80" x2="400.71" y2="366.00" stroke="#3a3a3a" stroke-width="0.90" />
<line x1="390.60" y1="357.65" x2="391.80" y2="357.65" stroke="#3a3a3a" stroke-width="0.90" />
<line x1="418.52" y1="364.80" x2="418.52" y2="366.00" stroke="#3a3a3a" stroke-width="0.90" />
<line x1="390.60" y1="343.35" x2="391.80" y2="343.35" stroke="#3a3a3a" stroke-width="0.90" />
<line x1="436.34" y1="364.80" x2="436.34" y2="366.00" stroke="#3a3a3a" stroke-width="0.90" />
<line x1="390.60" y1="329.05" x2="391.80" y2="329.05" stroke="#3a3a3a" stroke-width="0.90" />
<line x1="454.15" y1="364.80" x2="454.15" y2="366.00" stroke="#3a3a3a" stroke-width="0.90" />
<line x1="390.60" y1="314.75" x2="391.80" y2="314.75" stroke="#3a3a3a" stroke-width="0.90" />
<line x1="471.96" y1="364.80" x2="471.96" y2="366.00" stroke="#3a3a3a" stroke-width="0.90" />
<line x1="390.60" y1="300.45" x2="391.80" y2="300.45" stroke="#3a3a3a" stroke-width="0.90" />
<line x1="489.78" y1="364.80" x2="489.78" y2="366.00" stroke="#3a3a3a" stroke-width="0.90" />
<line x1="390.60" y1="286.15" x2="391.80" y2="286.15" stroke="#3a3a3a" stroke-width="0.90" />
<line x1="507.59" y1="364.80" x2="507.59" y2="366.00" stroke="#3a3a3a" stroke-width="0.90" />
<line x1="390.60" y1="271.85" x2="391.80" y2="271.85" stroke="#3a3a3a" stroke-width="0.90" />
<text transform="translate(391.80,373.80) scale(1.080,1)" font-size="7.00" font-weight="bold" text-anchor="middle" fill="#111" font-family='"Liberation Sans", sans-serif' >0</text>
<text transform="translate(389.60,366.80) scale(1.080,1)" font-size="7.00" font-weight="bold" text-anchor="end" fill="#111" font-family='"Liberation Sans", sans-serif' >0</text>
<text transform="translate(409.61,373.80) scale(1.080,1)" font-size="7.00" font-weight="bold" text-anchor="middle" fill="#111" font-family='"Liberation Sans", sans-serif' >2</text>
<text transform="translate(389.60,352.50) scale(1.080,1)" font-size="7.00" font-weight="bold" text-anchor="end" fill="#111" font-family='"Liberation Sans", sans-serif' >2</text>
<text transform="translate(427.43,373.80) scale(1.080,1)" font-size="7.00" font-weight="bold" text-anchor="middle" fill="#111" font-family='"Liberation Sans", sans-serif' >4</text>
<text transform="translate(389.60,338.20) scale(1.080,1)" font-size="7.00" font-weight="bold" text-anchor="end" fill="#111" font-family='"Liberation Sans", sans-serif' >4</text>
<text transform="translate(445.24,373.80) scale(1.080,1)" font-size="7.00" font-weight="bold" text-anchor="middle" fill="#111" font-family='"Liberation Sans", sans-serif' >6</text>
<text transform="translate(389.60,323.90) scale(1.080,1)" font-size="7.00" font-weight="bold" text-anchor="end" fill="#111" font-family='"Liberation Sans", sans-serif' >6</text>
<text transform="translate(463.06,373.80) scale(1.080,1)" font-size="7.00" font-weight="bold" text-anchor="middle" fill="#111" font-family='"Liberation Sans", sans-serif' >8</text>
<text transform="translate(389.60,309.60) scale(1.080,1)" font-size="7.00" font-weight="bold" text-anchor="end" fill="#111" font-family='"Liberation Sans", sans-serif' >8</text>
<text transform="translate(480.87,373.80) scale(1.080,1)" font-size="7.00" font-weight="bold" text-anchor="middle" fill="#111" font-family='"Liberation Sans", sans-serif' >10</text>
<text transform="translate(389.60,295.30) scale(1.080,1)" font-size="7.00" font-weight="bold" text-anchor="end" fill="#111" font-family='"Liberation Sans", sans-serif' >10</text>
<text transform="translate(498.69,373.80) scale(1.080,1)" font-size="7.00" font-weight="bold" text-anchor="middle" fill="#111" font-family='"Liberation Sans", sans-serif' >12</text>
<text transform="translate(389.60,281.00) scale(1.080,1)" font-size="7.00" font-weight="bold" text-anchor="end" fill="#111" font-family='"Liberation Sans", sans-serif' >12</text>
<text transform="translate(516.50,373.80) scale(1.080,1)" font-size="7.00" font-weight="bold" text-anchor="middle" fill="#111" font-family='"Liberation Sans", sans-serif' >14</text>
<text transform="translate(389.60,266.70) scale(1.080,1)" font-size="7.00" font-weight="bold" text-anchor="end" fill="#111" font-family='"Liberation Sans", sans-serif' >14</text>
<text transform="translate(442.40,381.20) scale(1.050,1)" font-size="7.60" font-weight="bold" text-anchor="start" fill="#111" font-family='"Liberation Sans", sans-serif' >Z'</text>
<text transform="translate(450.80,381.30) scale(1.140,1)" font-size="5.80" font-weight="normal" text-anchor="start" fill="#111" font-family='"Liberation Serif", serif' >(&#937; )</text>
<text transform="translate(377.20,316.00) rotate(-90) scale(1,1.140)" font-size="7.50" font-weight="bold" text-anchor="middle" fill="#111" font-family='"Liberation Serif", serif' >-Z'' <tspan font-weight="normal" font-size="5.8">(&#937;)</tspan></text>
<polyline points="457.71,364.80 458.60,363.94 459.94,363.23 461.72,362.51 463.50,361.94 465.73,361.58 467.96,361.08 470.18,360.37 472.86,358.94 474.64,357.65 476.33,356.08 478.64,353.86 481.14,351.29 483.90,348.00 485.68,342.99" fill="none" stroke="#ee1c1c" stroke-width="0.6" opacity="0.6"/>
<circle cx="457.71" cy="364.80" r="1.3" fill="#ee1c1c"/>
<circle cx="458.60" cy="363.94" r="1.3" fill="#ee1c1c"/>
<circle cx="459.94" cy="363.23" r="1.3" fill="#ee1c1c"/>
<circle cx="461.72" cy="362.51" r="1.3" fill="#ee1c1c"/>
<circle cx="463.50" cy="361.94" r="1.3" fill="#ee1c1c"/>
<circle cx="465.73" cy="361.58" r="1.3" fill="#ee1c1c"/>
<circle cx="467.96" cy="361.08" r="1.3" fill="#ee1c1c"/>
<circle cx="470.18" cy="360.37" r="1.3" fill="#ee1c1c"/>
<circle cx="472.86" cy="358.94" r="1.3" fill="#ee1c1c"/>
<circle cx="474.64" cy="357.65" r="1.3" fill="#ee1c1c"/>
<circle cx="476.33" cy="356.08" r="1.3" fill="#ee1c1c"/>
<circle cx="478.64" cy="353.86" r="1.3" fill="#ee1c1c"/>
<circle cx="481.14" cy="351.29" r="1.3" fill="#ee1c1c"/>
<circle cx="483.90" cy="348.00" r="1.3" fill="#ee1c1c"/>
<circle cx="485.68" cy="342.99" r="1.3" fill="#ee1c1c"/>
<polyline points="457.71,364.80 458.60,363.73 459.94,362.30 461.72,360.87 463.95,359.08 467.15,357.36 469.74,356.79 472.32,356.36 475.08,356.22 477.75,356.29 480.43,356.43 483.10,356.43 486.13,356.36 488.71,355.50 491.38,354.36 494.23,352.64 496.90,350.50 499.58,347.28 503.14,342.63 505.81,336.20" fill="none" stroke="#1010ee" stroke-width="0.6" opacity="0.6"/>
<circle cx="457.71" cy="364.80" r="1.3" fill="#1010ee"/>
<circle cx="458.60" cy="363.73" r="1.3" fill="#1010ee"/>
<circle cx="459.94" cy="362.30" r="1.3" fill="#1010ee"/>
<circle cx="461.72" cy="360.87" r="1.3" fill="#1010ee"/>
<circle cx="463.95" cy="359.08" r="1.3" fill="#1010ee"/>
<circle cx="467.15" cy="357.36" r="1.3" fill="#1010ee"/>
<circle cx="469.74" cy="356.79" r="1.3" fill="#1010ee"/>
<circle cx="472.32" cy="356.36" r="1.3" fill="#1010ee"/>
<circle cx="475.08" cy="356.22" r="1.3" fill="#1010ee"/>
<circle cx="477.75" cy="356.29" r="1.3" fill="#1010ee"/>
<circle cx="480.43" cy="356.43" r="1.3" fill="#1010ee"/>
<circle cx="483.10" cy="356.43" r="1.3" fill="#1010ee"/>
<circle cx="486.13" cy="356.36" r="1.3" fill="#1010ee"/>
<circle cx="488.71" cy="355.50" r="1.3" fill="#1010ee"/>
<circle cx="491.38" cy="354.36" r="1.3" fill="#1010ee"/>
<circle cx="494.23" cy="352.64" r="1.3" fill="#1010ee"/>
<circle cx="496.90" cy="350.50" r="1.3" fill="#1010ee"/>
<circle cx="499.58" cy="347.28" r="1.3" fill="#1010ee"/>
<circle cx="503.14" cy="342.63" r="1.3" fill="#1010ee"/>
<circle cx="505.81" cy="336.20" r="1.3" fill="#1010ee"/>
</svg></body></html>
